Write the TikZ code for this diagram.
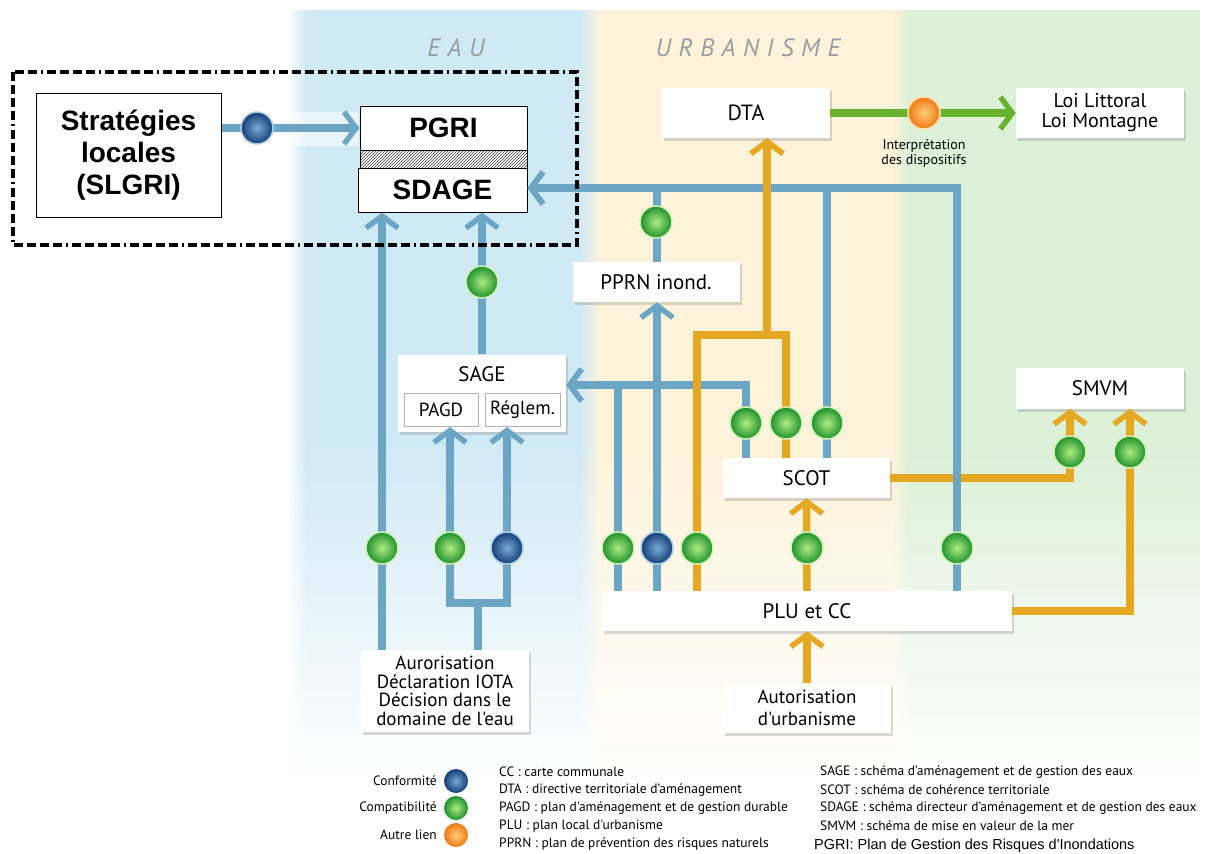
\documentclass[tikz,border=0pt]{standalone}
\usepackage{fontspec}
\setmainfont{PT Sans}[Ligatures=TeXOff]
\newfontfamily\arialf{Liberation Sans}[Ligatures=TeXOff]
\usetikzlibrary{arrows.meta,shadows,patterns,fadings}
\tikzfading[name=fadedown, top color=transparent!100, bottom color=transparent!0]
\definecolor{bandB}{RGB}{208,234,245}
\definecolor{bandY}{RGB}{253,243,218}
\definecolor{bandG}{RGB}{221,240,216}
\definecolor{lineB}{RGB}{108,166,196}
\definecolor{lineY}{RGB}{230,168,35}
\definecolor{lineG}{RGB}{104,178,48}
\definecolor{labGray}{RGB}{150,158,160}
\definecolor{ballGi}{RGB}{175,235,130}
\definecolor{ballGo}{RGB}{30,145,45}
\definecolor{ballBi}{RGB}{120,170,210}
\definecolor{ballBo}{RGB}{20,62,120}
\definecolor{ballOi}{RGB}{255,205,120}
\definecolor{ballOo}{RGB}{240,120,20}
\begin{document}
\begin{tikzpicture}[x=1pt,y=-1pt,
  box/.style={fill=white, inner sep=0pt, align=center,
    drop shadow={shadow xshift=2pt,shadow yshift=-3pt,opacity=0.3},
    font=\fontsize{21}{22}\selectfont},
  kbox/.style={fill=white, draw=black, line width=1pt, inner sep=0pt, align=center,
    font=\arialf\bfseries\fontsize{28}{32}\selectfont},
  ibox/.style={fill=white, draw=black!30, line width=1pt, inner sep=0pt,
    minimum width=74pt, minimum height=33pt, font=\fontsize{19}{19}\selectfont},
  arr/.style={-{Straight Barb[length=12pt,width=32pt,line width=5.5pt]}},
  bl/.style={draw=lineB, line width=7.5pt, line join=miter},
  yl/.style={draw=lineY, line width=7.5pt, line join=miter},
  gl/.style={draw=lineG, line width=7.5pt},
  ball/.style={circle, inner sep=0pt, minimum size=32pt, shading=radial, line width=1.5pt},
  gdot/.style={ball, inner color=ballGi, outer color=ballGo, draw=ballGi!60!white},
  bdot/.style={ball, inner color=ballBi, outer color=ballBo, draw=ballBi!60!white},
  odot/.style={ball, inner color=ballOi, outer color=ballOo, draw=ballOi!60!white},
  leg/.style={anchor=west, inner sep=0pt, font=\fontsize{13.5}{14}\selectfont},
  legr/.style={anchor=east, inner sep=0pt, font=\fontsize{13.5}{14}\selectfont},
  band/.style={font=\fontsize{25}{25}\selectfont\itshape\addfontfeature{LetterSpace=30}, text=labGray}
]
\useasboundingbox (0,0) rectangle (1208,854);
\fill[white] (0,0) rectangle (1208,854);
% background bands
\fill[bandB] (306,10) rectangle (590,775);
\shade[left color=white, right color=bandB] (286,10) rectangle (306,775);
\fill[bandY] (590,10) rectangle (900,775);
\fill[bandG] (900,10) rectangle (1200,775);
\shade[left color=bandB, right color=bandY] (580,10) rectangle (600,775);
\shade[left color=bandY, right color=bandG] (892,10) rectangle (908,775);
\fill[white, path fading=fadedown] (280,440) rectangle (1208,776);

\node[band] (eau) at (456,48) {EAU};
\node[band] (urb) at (748,48) {URBANISME};

% glow behind arrow
\fill[white, opacity=0.55] (221,112) rectangle (358,146);

% boxes
\node[kbox, minimum width=185pt, minimum height=124pt] (slgri) at (128.5,155) {Stratégies\\locales\\(SLGRI)};
\node[kbox, minimum width=167pt, minimum height=44pt] (pgri) at (443.5,128) {PGRI};
\node[draw=black, line width=1pt, preaction={fill=white}, pattern=north east lines, pattern color=black!75,
  minimum width=167pt, minimum height=18pt, inner sep=0pt] (hatch) at (443.5,159) {};
\node[kbox, minimum width=169pt, minimum height=44pt] (sdage) at (442.5,190) {SDAGE};

\node[box, minimum width=168pt, minimum height=50pt, font=\fontsize{22}{22}\selectfont] (dta) at (746,113) {DTA};
\node[box, minimum width=168pt, minimum height=50pt, font=\fontsize{20}{20}\selectfont] (loi) at (1100,113) {Loi Littoral\\Loi Montagne};
\node[box, minimum width=167pt, minimum height=40pt] (pprn) at (656,282) {PPRN inond.};
\node[box, minimum width=168pt, minimum height=77pt] (sage) at (482,393) {};
\node[font=\fontsize{21}{21}\selectfont, inner sep=0pt] (sagelbl) at (482,374) {SAGE};
\node[ibox] (pagd) at (441,410) {PAGD};
\node[ibox, minimum width=75pt] (reglem) at (522.5,410) {Réglem.};
\node[box, minimum width=167pt, minimum height=40pt] (scot) at (806.5,478) {SCOT};
\node[box, minimum width=168pt, minimum height=41pt] (smvm) at (1100,388) {SMVM};
\node[box, minimum width=410pt, minimum height=40pt] (plu) at (807,611) {PLU et CC};
\node[box, minimum width=168pt, minimum height=82pt, font=\fontsize{19}{18.5}\selectfont] (auror) at (445,691) {Aurorisation\\Déclaration IOTA\\Décision dans le\\domaine de l'eau};
\node[box, minimum width=168pt, minimum height=49pt, font=\fontsize{19}{22}\selectfont] (autur) at (807,708) {Autorisation\\d'urbanisme};

% column / row coordinates
\coordinate (xA) at (382,0);
\coordinate (xPg) at (450,0);
\coordinate (xRg) at (507,0);
\coordinate (xJ) at (478,0);
\coordinate (xP1) at (618,0);
\coordinate (xP2) at (657,0);
\coordinate (xP3) at (697,0);
\coordinate (xDT) at (767,0);
\coordinate (xS1) at (746,0);
\coordinate (xS2) at (786,0);
\coordinate (xS3) at (827,0);
\coordinate (xR) at (957,0);
\coordinate (xM1) at (1070,0);
\coordinate (xM2) at (1130,0);
\coordinate (ySD) at (0,188);
\coordinate (ySG) at (0,385);
\coordinate (yBr) at (0,335);
\coordinate (yJ) at (0,603);

% connectors
\draw[yl,arr] (scot.east) -| (smvm.south -| xM1);
\draw[bl,arr] (slgri.east |- pgri.west) -- (pgri.west);
\draw[bl,arr] (auror.north -| xA) -- (sdage.south -| xA);
\draw[bl,arr] (sage.north) -- (sdage.south -| sage.north);
\draw[bl,arr] (auror.north -| xJ) -- (xJ |- yJ) -| (pagd.south -| xPg);
\draw[bl,arr] (xJ |- yJ) -| (reglem.south -| xRg);
\draw[bl,arr] (plu.north -| xP1) -- (xP1 |- ySG) -- (sage.east |- ySG);
\draw[bl,arr] (scot.north -| xS1) -- (xS1 |- ySG) -- (sage.east |- ySG);
\draw[bl,arr] (plu.north -| xP2) -- (pprn.south -| xP2);
\draw[bl,arr] (pprn.north -| xP2) -- (xP2 |- ySD) -- (sdage.east |- ySD);
\draw[bl,arr] (scot.north -| xS3) -- (xS3 |- ySD) -- (sdage.east |- ySD);
\draw[bl,arr] (plu.north -| xR) -- (xR |- ySD) -- (sdage.east |- ySD);
\draw[yl,arr] (plu.north -| xP3) -- (xP3 |- yBr) -- (xDT |- yBr) -- (dta.south -| xDT);
\draw[yl,arr] (scot.north -| xS2) -- (xS2 |- yBr) -- (xDT |- yBr) -- (dta.south -| xDT);
\draw[yl,arr] (plu.north) -- (scot.south);
\draw[yl,arr] (autur.north) -- (plu.south);
\draw[yl,arr] (plu.east) -| (smvm.south -| xM2);
\draw[gl,arr] (dta.east) -- (loi.west);

% dots
\node[bdot] (d0) at (257,128) {};
\node[gdot] (d1) at (382,548) {};
\node[gdot] (d2) at (450,548) {};
\node[bdot] (d3) at (507,548) {};
\node[gdot] (d4) at (618,548) {};
\node[bdot] (d5) at (657,548) {};
\node[gdot] (d6) at (697,548) {};
\node[gdot] (d7) at (807,548) {};
\node[gdot] (d8) at (957,548) {};
\node[gdot] (d9) at (746,423) {};
\node[gdot] (d10) at (786,423) {};
\node[gdot] (d11) at (827,423) {};
\node[gdot] (d12) at (482,282) {};
\node[gdot] (d13) at (656,222) {};
\node[gdot] (d14) at (1070,452) {};
\node[gdot] (d15) at (1130,452) {};
\node[odot] (d16) at (924,113) {};
\node[align=center, font=\fontsize{14}{15}\selectfont, inner sep=0pt] (interp) at (924,153) {Interprétation\\des dispositifs};

% dashed frame
\draw[black, line width=4pt, dash pattern=on 9pt off 4pt on 9pt off 4pt on 9pt off 4pt on 9pt off 4pt on 2pt off 4pt] (13,72) rectangle (577,245);

% legend
\node[legr] (lconf) at (437,781) {Conformité};
\node[legr] (lcomp) at (437,808) {Compatibilité};
\node[legr] (lautre) at (437,835) {Autre lien};
\node[bdot, minimum size=24pt, line width=0pt, draw=none] (ldb) at (456,781) {};
\node[gdot, minimum size=24pt, line width=0pt, draw=none] (ldg) at (456,808) {};
\node[odot, minimum size=24pt, line width=0pt, draw=none] (ldo) at (456,835) {};
\node[leg] (c1) at (499,772) {CC : carte communale};
\node[leg] (c2) at (499,790) {DTA : directive territoriale d’aménagement};
\node[leg] (c3) at (499,808) {PAGD : plan d'aménagement et de gestion durable};
\node[leg] (c4) at (499,826) {PLU : plan local d'urbanisme};
\node[leg] (c5) at (499,844) {PPRN : plan de prévention des risques naturels};
\node[leg] (s1) at (820,772) {SAGE : schéma d’aménagement et de gestion des eaux};
\node[leg] (s2) at (820,790) {SCOT : schéma de cohérence territoriale};
\node[leg] (s3) at (820,808) {SDAGE : schéma directeur d’aménagement et de gestion des eaux};
\node[leg] (s4) at (820,826) {SMVM : schéma de mise en valeur de la mer};
\node[leg, font=\arialf\fontsize{14.5}{15}\selectfont] (s5) at (814,846) {PGRI: Plan de Gestion des Risques d'Inondations};
\end{tikzpicture}
\end{document}
